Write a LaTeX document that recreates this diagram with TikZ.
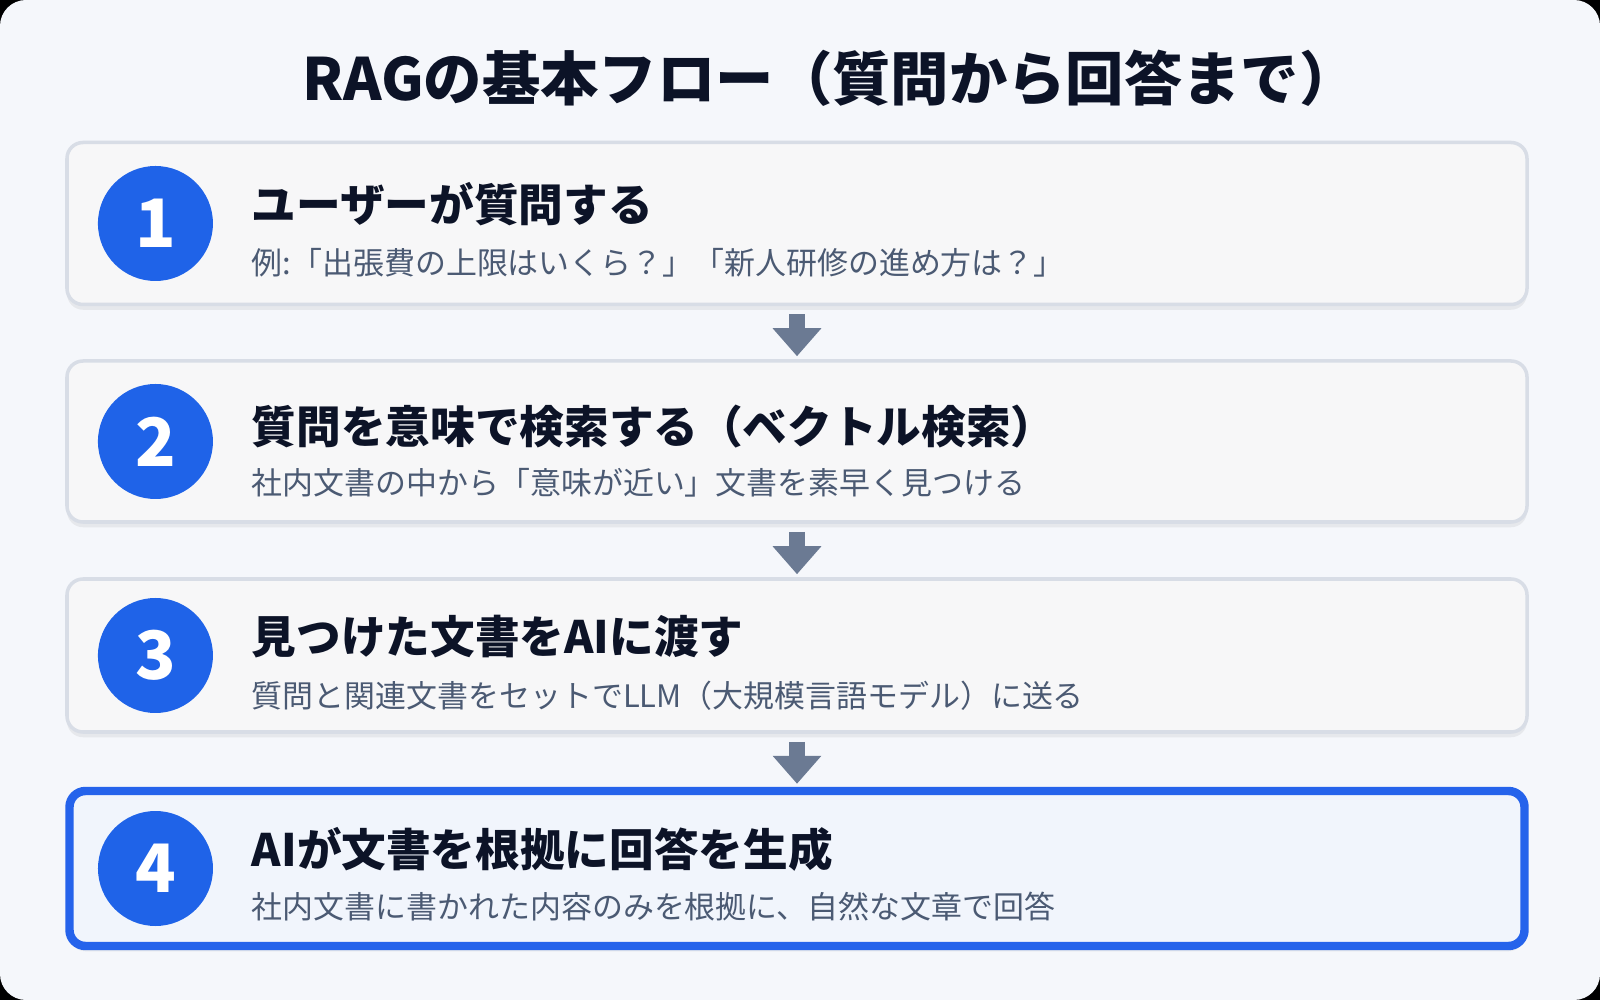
\documentclass[tikz,border=0pt]{standalone}
\usepackage{fontspec}
\newfontfamily\jpfont[BoldFont={Noto Sans CJK JP Black}]{Noto Sans CJK JP}
\usepackage{tikz}
\usetikzlibrary{positioning,arrows.meta,shadows}
\definecolor{pagebg}{HTML}{F5F7FB}
\definecolor{boxfill}{HTML}{F7F7F8}
\definecolor{boxline}{HTML}{D8DDE6}
\definecolor{lastfill}{HTML}{F1F5FC}
\definecolor{accent}{HTML}{2563EB}
\definecolor{numblue}{HTML}{1F63E8}
\definecolor{headink}{HTML}{0C1327}
\definecolor{subink}{HTML}{4B5A73}
\definecolor{arrowgray}{HTML}{6B7A93}
\tikzset{>=latex}
\tikzstyle{stepbox}  = [draw=boxline,
                        line width=1pt,
                        fill=boxfill,
                        rounded corners=0.16cm,
                        minimum width=14.6cm,
                        drop shadow={shadow xshift=0pt, shadow yshift=-1.5pt, opacity=0.12}]
\tikzstyle{lastbox}  = [stepbox,
                        draw=accent,
                        line width=2.4pt,
                        minimum width=14.55cm,
                        fill=lastfill]
\tikzstyle{numdot}   = [circle,
                        fill=numblue,
                        minimum size=1.15cm,
                        inner sep=0pt,
                        text=white,
                        font=\jpfont\bfseries\fontsize{19}{22}\selectfont]
\tikzstyle{heading}  = [anchor=west,
                        inner sep=0pt,
                        text=headink,
                        font=\jpfont\bfseries\fontsize{12.7}{15}\selectfont]
\tikzstyle{subtext}  = [anchor=west,
                        inner sep=0pt,
                        text=subink,
                        font=\jpfont\fontsize{8.8}{11}\selectfont]
\tikzstyle{flow}     = [-{Triangle[width=0.47cm,length=0.28cm]},
                        draw=arrowgray,
                        line width=0.16cm,
                        shorten <=0.08cm,
                        shorten >=0.03cm]
\begin{document}
\begin{tikzpicture}

  % Background
  \fill[black] (0,0) rectangle (16,-10);
  \fill[pagebg, rounded corners=0.26cm] (0,0) rectangle (16,-10);
  \useasboundingbox (0,0) rectangle (16,-10);

  % Title
  \node[anchor=west, inner sep=0pt, text=headink,
    font=\jpfont\bfseries\fontsize{16.6}{19}\selectfont] (title)
    at (3.02,-0.78) {RAGの基本フロー（質問から回答まで）};

  % Boxes
  \node[stepbox, minimum height=1.62cm] (box1) at (7.97,-2.235) {};
  \node[stepbox, minimum height=1.61cm] (box2) at (7.97,-4.415) {};
  \node[stepbox, minimum height=1.53cm] (box3) at (7.97,-6.555) {};
  \node[lastbox, minimum height=1.55cm] (box4) at (7.97,-8.685) {};

  % Numbers
  \node[numdot, right=0.32cm of box1.west] (num1) {1};
  \node[numdot, right=0.32cm of box2.west] (num2) {2};
  \node[numdot, right=0.32cm of box3.west] (num3) {3};
  \node[numdot, right=0.32cm of box4.west] (num4) {4};

  % Texts
  \node[heading] (head1) at ([xshift=1.86cm, yshift=0.19cm]box1.west) {ユーザーが質問する};
  \node[subtext] (sub1) at ([xshift=1.86cm, yshift=-0.39cm]box1.west)
    {例:「出張費の上限はいくら？」「新人研修の進め方は？」};
  \node[heading] (head2) at ([xshift=1.86cm, yshift=0.15cm]box2.west) {質問を意味で検索する（ベクトル検索）};
  \node[subtext] (sub2) at ([xshift=1.86cm, yshift=-0.41cm]box2.west)
    {社内文書の中から「意味が近い」文書を素早く見つける};
  \node[heading] (head3) at ([xshift=1.86cm, yshift=0.19cm]box3.west) {見つけた文書をAIに渡す};
  \node[subtext] (sub3) at ([xshift=1.86cm, yshift=-0.40cm]box3.west)
    {質問と関連文書をセットでLLM（大規模言語モデル）に送る};
  \node[heading] (head4) at ([xshift=1.86cm, yshift=0.19cm]box4.west) {AIが文書を根拠に回答を生成};
  \node[subtext] (sub4) at ([xshift=1.86cm, yshift=-0.38cm]box4.west)
    {社内文書に書かれた内容のみを根拠に、自然な文章で回答};

  % Edges
  \draw[flow] (box1) -- (box2);
  \draw[flow] (box2) -- (box3);
  \draw[flow] (box3) -- (box4);

\end{tikzpicture}
\end{document}
